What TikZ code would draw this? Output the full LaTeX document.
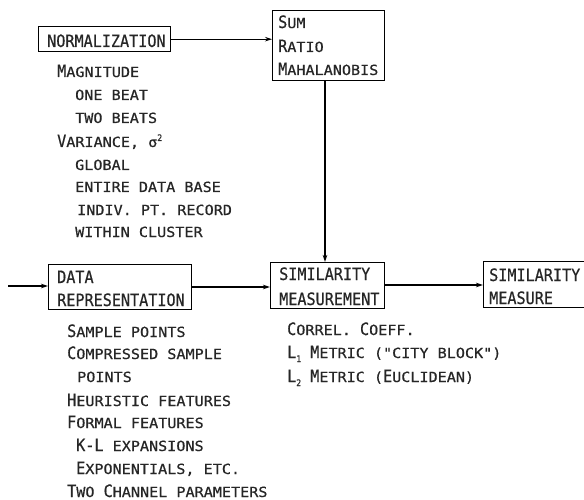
\documentclass[tikz,border=0pt]{standalone}
\usepackage{fontspec}
\usetikzlibrary{arrows.meta}
\newfontfamily\BigF[FakeStretch=0.89,FakeBold=0.6]{DejaVu Sans Mono}
\newfontfamily\SmF[FakeStretch=1.08,FakeBold=0.6]{DejaVu Sans Mono}
\newcommand\bg[1]{{\BigF\fontsize{17}{19}\selectfont #1}}
\newcommand\sm[1]{{\SmF\fontsize{14}{16}\selectfont #1}}
\newcommand\subn[1]{\raisebox{-4pt}{\BigF\fontsize{9}{10}\selectfont #1}}
\newcommand\supn[1]{\raisebox{6pt}{\BigF\fontsize{9}{10}\selectfont #1}}
\tikzset{
  box/.style={draw, line width=1.4pt, anchor=north west, inner sep=0pt},
  txt/.style={anchor=base west, inner sep=0pt, text=black!85},
  conn/.style={line width=1.2pt, -{Stealth[length=7pt,width=4.5pt]}}
}
\begin{document}
\begin{tikzpicture}[x=1pt,y=-1pt]
\useasboundingbox (0,0) rectangle (584,500);
\clip (0,0) rectangle (584,500);
% boxes
\node[box, minimum width=132pt, minimum height=25pt] (norm) at (38,26) {};
\node[box, minimum width=112pt, minimum height=70pt] (sum) at (272,10) {};
\node[box, minimum width=143pt, minimum height=45pt] (data) at (48,264) {};
\node[box, minimum width=114pt, minimum height=46pt] (simm) at (270,262) {};
\node[box, minimum width=130pt, minimum height=46pt] (sim) at (483,261) {};
% box texts
\node[txt] (normt) at (47,47) {\bg{NORMALIZATION}};
\node[txt] (sum1) at (278,28) {\bg{S}\sm{UM}};
\node[txt] (sum2) at (278,52) {\bg{R}\sm{ATIO}};
\node[txt] (sum3) at (278,75) {\bg{M}\sm{AHALANOBIS}};
\node[txt] (data1) at (57,283) {\bg{DATA}};
\node[txt] (data2) at (57,306) {\bg{REPRESENTATION}};
\node[txt] (simm1) at (279,280) {\bg{SIMILARITY}};
\node[txt] (simm2) at (279,305) {\bg{MEASUREMENT}};
\node[txt] (sim1) at (489,281) {\bg{SIMILARITY}};
\node[txt] (sim2) at (489,304) {\bg{MEASURE}};
% normalization list
\node[txt] (n1) at (57,77) {\bg{M}\sm{AGNITUDE}};
\node[txt] (n2) at (75,100) {\sm{ONE BEAT}};
\node[txt] (n3) at (75,123) {\sm{TWO BEATS}};
\node[txt] (n4) at (57,147) {\bg{V}\sm{ARIANCE, σ}\supn{2}};
\node[txt] (n5) at (75,170) {\sm{GLOBAL}};
\node[txt] (n6) at (75,192) {\sm{ENTIRE DATA BASE}};
\node[txt] (n7) at (77,215) {\sm{INDIV. PT. RECORD}};
\node[txt] (n8) at (75,237) {\sm{WITHIN CLUSTER}};
% data list
\node[txt] (d1) at (67,337) {\bg{S}\sm{AMPLE POINTS}};
\node[txt] (d2) at (67,359) {\bg{C}\sm{OMPRESSED SAMPLE}};
\node[txt] (d3) at (77,382) {\sm{POINTS}};
\node[txt] (d4) at (67,406) {\bg{H}\sm{EURISTIC FEATURES}};
\node[txt] (d5) at (67,428) {\bg{F}\sm{ORMAL FEATURES}};
\node[txt] (d6) at (76,451) {\bg{K-L}\sm{ EXPANSIONS}};
\node[txt] (d7) at (76,474) {\bg{E}\sm{XPONENTIALS, ETC.}};
\node[txt] (d8) at (67,497) {\bg{T}\sm{WO }\bg{C}\sm{HANNEL PARAMETERS}};
% similarity list
\node[txt] (s1) at (287,335) {\bg{C}\sm{ORREL. }\bg{C}\sm{OEFF.}};
\node[txt] (s2) at (287,358) {\bg{L}\subn{1}\sm{ }\bg{M}\sm{ETRIC ("CITY BLOCK")}};
\node[txt] (s3) at (287,382) {\bg{L}\subn{2}\sm{ }\bg{M}\sm{ETRIC (}\bg{E}\sm{UCLIDEAN)}};
% connectors
\coordinate (in) at (8,286);
\draw[conn] (norm.east) -- (norm.east -| sum.west);
\draw[conn] (sum.south -| 325,0) -- (simm.north -| 325,0);
\draw[conn] (in) -- (in -| data.west);
\draw[conn] (data.east |- 0,287) -- (simm.west |- 0,287);
\draw[conn] (simm.east |- 0,285) -- (sim.west |- 0,285);
\end{tikzpicture}
\end{document}
